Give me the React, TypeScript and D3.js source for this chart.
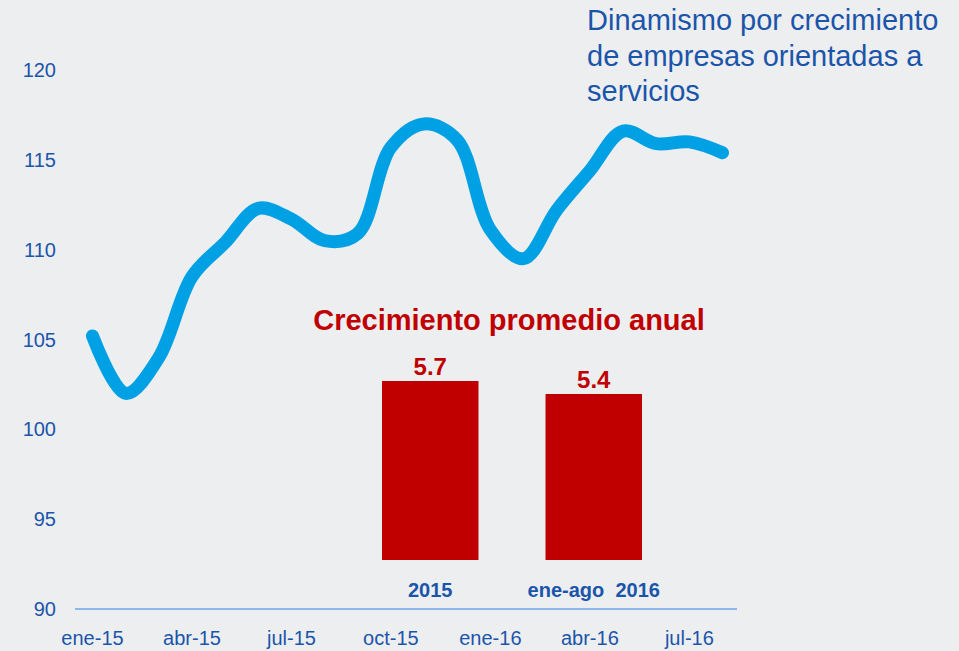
import React from 'react';
import * as d3 from 'd3';

// monthly index, ene-15 .. ago-16
const months = ['ene-15', 'feb-15', 'mar-15', 'abr-15', 'may-15', 'jun-15', 'jul-15', 'ago-15', 'sep-15', 'oct-15',
    'nov-15', 'dic-15', 'ene-16', 'feb-16', 'mar-16', 'abr-16', 'may-16', 'jun-16', 'jul-16', 'ago-16'];
const indexValues = [105.2, 102.0, 104.0, 108.5, 110.4, 112.3, 111.7, 110.5, 110.9, 115.7,
    117.0, 116.1, 111.1, 109.5, 112.2, 114.4, 116.6, 115.9, 116.0, 115.4];
const xTickLabels = ['ene-15', 'abr-15', 'jul-15', 'oct-15', 'ene-16', 'abr-16', 'jul-16'];
const yTicks = [90, 95, 100, 105, 110, 115, 120];

// inset bars
const barCategories = ['2015', 'ene-ago  2016'];
const barValues = [5.7, 5.4];

const titleLines = ['Dinamismo por crecimiento', 'de empresas orientadas a', 'servicios'];
const insetTitle = 'Crecimiento promedio anual';

const W = 959;
const H = 651;
const BLUE_TEXT = '#1b55aa';
const RED = '#c00000';
const FONT = 'Arial, "Liberation Sans", sans-serif';

export default function App() {
    const x = d3.scalePoint<string>().domain(months).range([92.5, 722.5]);
    const y = d3.scaleLinear().domain([90, 120]).range([609, 70]);

    const line = d3.line<number>()
        .x((d, i) => x(months[i]) as number)
        .y(d => y(d))
        .curve(d3.curveCatmullRom.alpha(0.5));

    // inset bar chart (baseline is not zero in the original)
    const xb = d3.scaleBand().domain(barCategories).range([382, 642]).paddingInner(0.41);
    const yb = d3.scaleLinear().domain([1.57, 5.7]).range([560, 381]);

    return (
        <svg width={W} height={H} style={{ position: 'absolute', left: 0, top: 0, fontFamily: FONT }}>
            <rect x={0} y={0} width={W} height={H} fill='#edeef0' />

            {/* y axis labels */}
            <g>
                {yTicks.map(t => (
                    <text key={t} x={56} y={y(t)} dy='0.35em' textAnchor='end' fontSize={20} fill={BLUE_TEXT}>{t}</text>
                ))}
            </g>

            {/* x axis */}
            <line x1={75} x2={737} y1={y(90)} y2={y(90)} stroke='#6aa5ee' strokeWidth={1.5} />
            <g>
                {xTickLabels.map(m => (
                    <text key={m} x={x(m)} y={645} textAnchor='middle' fontSize={20} fill={BLUE_TEXT}>{m}</text>
                ))}
            </g>

            {/* index line */}
            <path d={line(indexValues) || ''} fill='none' stroke='#00a0e4' strokeWidth={13}
                strokeLinecap='round' strokeLinejoin='round' />

            {/* title */}
            <text x={587} y={30} fontSize={29} fill={BLUE_TEXT}>
                {titleLines.map((l, i) => (
                    <tspan key={i} x={587} y={30 + i * 35.5}>{l}</tspan>
                ))}
            </text>

            {/* inset: Crecimiento promedio anual */}
            <text x={509} y={330} textAnchor='middle' fontSize={29} fontWeight='bold' fill={RED}>{insetTitle}</text>
            <g>
                {barCategories.map((c, i) => {
                    const bx = xb(c) as number;
                    const bw = xb.bandwidth();
                    return (
                        <g key={c}>
                            <rect x={bx} y={yb(barValues[i])} width={bw} height={yb(1.57) - yb(barValues[i])} fill={RED} />
                            <text x={bx + bw / 2} y={yb(barValues[i]) - 6} textAnchor='middle' fontSize={24}
                                fontWeight='bold' fill={RED}>{barValues[i].toFixed(1)}</text>
                            <text x={bx + bw / 2} y={597} textAnchor='middle' fontSize={20} fontWeight='bold'
                                fill={BLUE_TEXT} style={{ whiteSpace: 'pre' }}>{c}</text>
                        </g>
                    );
                })}
            </g>
        </svg>
    );
}
